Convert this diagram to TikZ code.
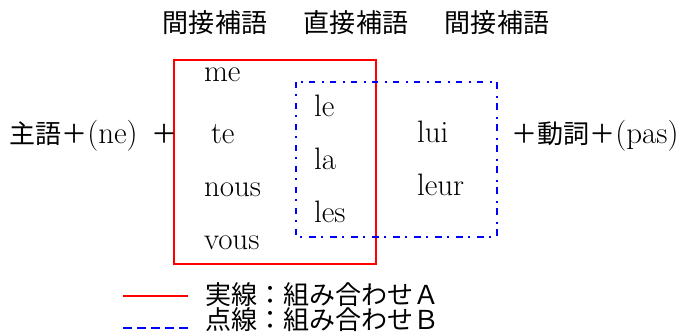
\documentclass[tikz,border=0pt]{standalone}
\usepackage{fontspec}
\newfontfamily\jp[Scale=0.84]{Noto Sans CJK JP}
\usetikzlibrary{positioning}

\tikzset{
  pron/.style={font=\fontsize{31}{33}\selectfont, text width=60pt, align=left,
    inner sep=0pt, text height=21pt, text depth=1pt},
  plain/.style={font=\fontsize{31}{33}\selectfont, inner sep=0pt},
  boxA/.style={draw=red, line width=2pt},
  boxB/.style={draw=blue, line width=1.6pt, dash pattern=on 6.5pt off 5.5pt on 2pt off 7pt},
  legB/.style={draw=blue, line width=2pt, dash pattern=on 8.5pt off 5.5pt}
}

\begin{document}
\begin{tikzpicture}[x=1pt,y=-1pt,node distance=53pt,on grid]
\useasboundingbox (0,0) rectangle (684,336);
% headers
\node[plain, anchor=base] (hInd1) at (215,33) {\jp 間接補語};
\node[plain, anchor=base] (hDir)  at (356,33) {\jp 直接補語};
\node[plain, anchor=base] (hInd2) at (497,33) {\jp 間接補語};
% boxes
\draw[boxA] (174,60) rectangle (376,264);
\draw[boxB] (296,82) rectangle (497,237);
% pronouns
\node[pron] (te) at (234,134) {\hspace*{7pt}te};
\node[pron] (me) [above=62pt of te] {me};
\node[pron] (nous) [below=of te] {nous};
\node[pron] (vous) [below=of nous] {vous};
\node[pron] (le) at (344,107) {le};
\node[pron] (la) [below=of le] {la};
\node[pron] (les) [below=of la] {les};
\node[pron] (lui) at (447,133) {lui};
\node[pron] (leur) [below=of lui] {leur};
% sentence
\node[plain, anchor=base west] (subj) at (9,144) {{\jp 主語＋}(ne)\hspace{4pt} {\jp ＋}};
\node[plain, anchor=base west] (verb) at (511,144) {{\jp ＋動詞＋}(pas)};
% legend
\coordinate (la1) at (123,296);
\coordinate (la2) at (188,296);
\coordinate (lb1) at (123,328);
\coordinate (lb2) at (188,328);
\draw[boxA] (la1) -- (la2);
\draw[legB] (lb1) -- (lb2);
\node[plain, anchor=base west] (legA) at (205,304) {\jp 実線：組み合わせＡ};
\node[plain, anchor=base west] (legBt) at (205,329) {\jp 点線：組み合わせＢ};
\end{tikzpicture}
\end{document}
